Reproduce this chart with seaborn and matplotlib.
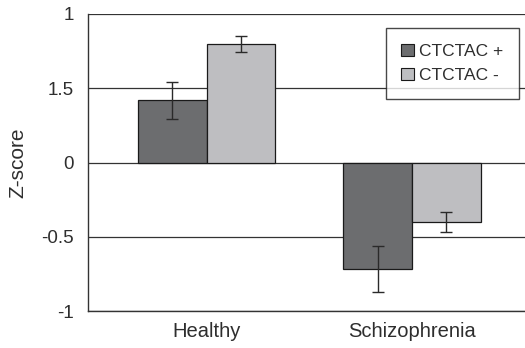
import matplotlib
matplotlib.use("Agg")
import matplotlib.pyplot as plt
import seaborn as sns
import pandas as pd
from matplotlib.patches import Patch

groups = ["Healthy", "Schizophrenia"]
genotypes = ["CTCTAC +", "CTCTAC -"]
means_pos = [0.42, -0.72]
means_neg = [0.80, -0.40]
err_pos = [0.125, 0.155]
err_neg = [0.055, 0.07]
ytick_vals = [1, 0.5, 0, -0.5, -1]
ytick_labels = ["1", "1.5", "0", "-0.5", "-1"]

colors = ["#6c6d6f", "#bdbec1"]
text_color = "#2e2e2e"

sns.set_style("white")
plt.rcParams["font.family"] = ["Liberation Sans", "DejaVu Sans"]

df = pd.DataFrame({
    "group": groups * 2,
    "genotype": [genotypes[0]] * 2 + [genotypes[1]] * 2,
    "z": means_pos + means_neg,
    "err": err_pos + err_neg,
})

fig = plt.figure(figsize=(5.25, 3.48), dpi=100)
ax = fig.add_axes([88 / 525, 1 - 311 / 348, 1 - 88 / 525, (311 - 14) / 348])

sns.barplot(data=df, x="group", y="z", hue="genotype", order=groups,
            hue_order=genotypes, palette=colors, errorbar=None,
            width=0.67, edgecolor="#1a1a1a", linewidth=0.9,
            legend=False, ax=ax, zorder=3)

# error bars at the bar centres (patches come hue by hue, group by group)
rows = [(g, h) for h in genotypes for g in groups]
lookup = df.set_index(["group", "genotype"])
for patch, (g, h) in zip(ax.patches, rows):
    cx = patch.get_x() + patch.get_width() / 2
    ax.errorbar(cx, lookup.loc[(g, h), "z"], yerr=lookup.loc[(g, h), "err"],
                fmt="none", ecolor="#2a2a2a", elinewidth=1.0, capsize=4,
                capthick=1.0, zorder=4)

ax.set_ylim(-1, 1)
ax.set_xlim(-0.578, 1.55)
ax.set_yticks(ytick_vals)
ax.set_yticklabels(ytick_labels)
ax.yaxis.grid(True, color="#333333", linewidth=0.9, zorder=0)
ax.set_axisbelow(True)

ax.set_xticks([0, 1])
ax.set_xticklabels(groups)
ax.set_xticks([0.5], minor=True)
ax.tick_params(axis="x", which="major", length=0, pad=8,
               labelsize=14.5, labelcolor=text_color)
ax.tick_params(axis="x", which="minor", length=6, width=1.0,
               color="#333333", direction="out")
ax.tick_params(axis="y", length=6, width=1.0, color="#333333",
               direction="out", labelsize=13.5, labelcolor=text_color, pad=4)

for side in ["top", "right"]:
    ax.spines[side].set_visible(False)
for side in ["left", "bottom"]:
    ax.spines[side].set_color("#333333")
    ax.spines[side].set_linewidth(1.0)

ax.set_xlabel("")
ax.set_ylabel("Z-score", fontsize=15, color=text_color, labelpad=10)

handles = [Patch(facecolor=c, edgecolor="#1a1a1a", linewidth=0.8) for c in colors]
leg = ax.legend(handles, genotypes, loc="upper right",
                bbox_to_anchor=(0.987, 0.953), frameon=True, fancybox=False,
                edgecolor="#1a1a1a", fontsize=12.5, handlelength=0.75,
                handleheight=0.7, handletextpad=0.3, borderpad=0.9,
                labelspacing=0.55, borderaxespad=0)
leg.get_frame().set_linewidth(1.0)
for t in leg.get_texts():
    t.set_color(text_color)

fig.savefig("out.png", dpi=100)
